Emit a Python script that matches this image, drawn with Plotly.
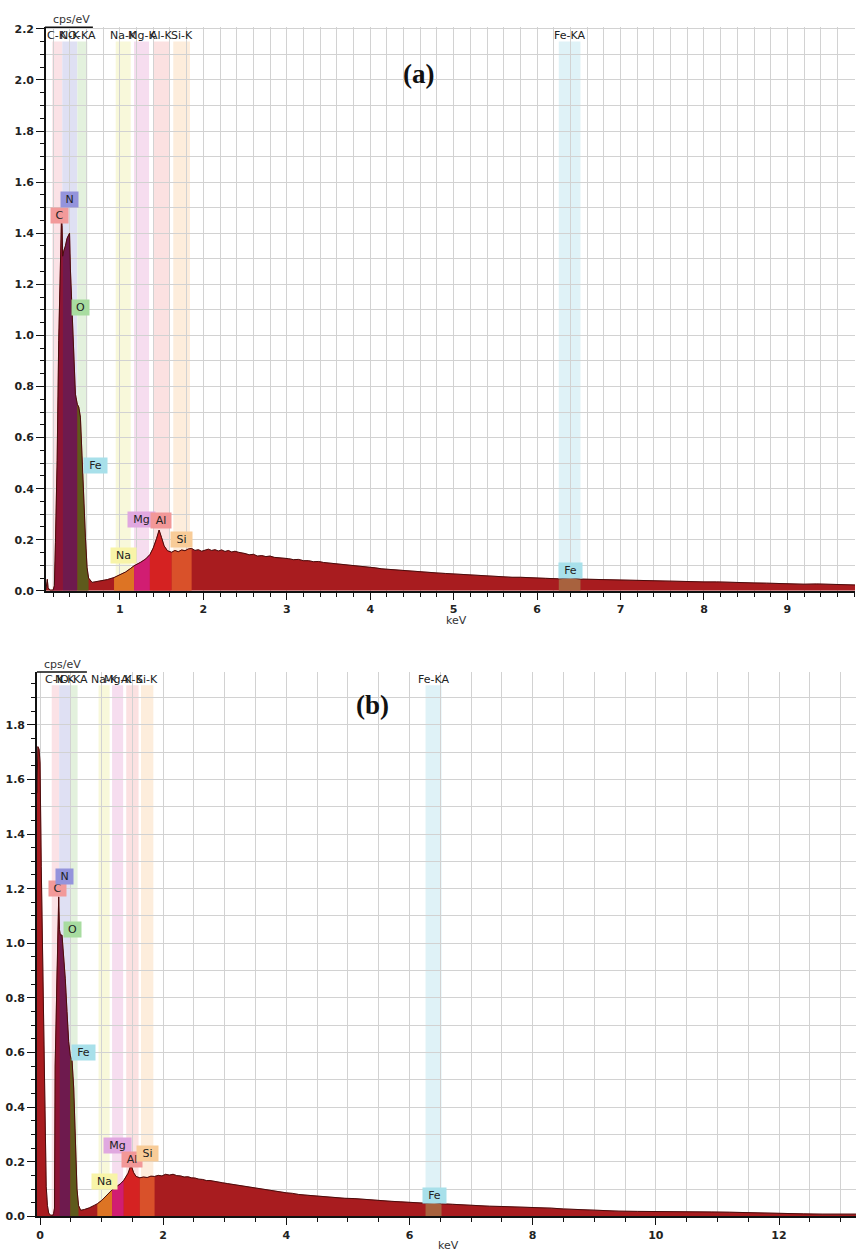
import plotly.graph_objects as go

# ---------------- data ----------------
# Panel (a) spectrum
energy_a = [0.114, 0.12, 0.13, 0.14, 0.16, 0.20, 0.215, 0.228, 0.248, 0.267, 0.287, 0.300, 0.307,
            0.315, 0.327, 0.347, 0.367, 0.387, 0.397, 0.407, 0.427, 0.447, 0.467, 0.49, 0.507,
            0.527, 0.547, 0.567, 0.587, 0.607, 0.625, 0.667, 0.75, 0.85, 0.93, 1.00, 1.07, 1.13,
            1.17, 1.25, 1.31, 1.36, 1.40, 1.44, 1.47, 1.50, 1.53, 1.57,
            1.62, 1.66, 1.70, 1.74, 1.78, 1.82, 1.86, 1.90, 1.94, 1.98, 2.02, 2.06, 2.10, 2.14,
            2.18, 2.22, 2.26, 2.30, 2.34, 2.38, 2.42, 2.46, 2.50, 2.55, 2.60, 2.65, 2.70, 2.75,
            2.80, 2.85, 2.90, 2.96, 3.02, 3.08, 3.14, 3.20, 3.26, 3.32, 3.38, 3.44, 3.50, 3.58,
            3.66, 3.74, 3.82, 3.90, 3.98, 4.06, 4.14, 4.22, 4.30, 4.40, 4.50, 4.60, 4.70, 4.80,
            4.90, 5.00, 5.10, 5.20, 5.30, 5.40, 5.50, 5.60, 5.70, 5.80, 5.90, 6.00, 6.10, 6.26,
            6.40, 6.52, 6.65, 6.80, 6.95, 7.10, 7.25, 7.40, 7.55, 7.70, 7.85, 8.00, 8.15, 8.30,
            8.45, 8.60, 8.75, 8.90, 9.05, 9.20, 9.35, 9.50, 9.65, 9.81]
counts_a = [0.004, 0.03, 0.045, 0.012, 0.003, 0.003, 0.02, 0.19, 0.51, 0.98, 1.35, 1.46, 1.43,
            1.31, 1.33, 1.35, 1.38, 1.39, 1.40, 1.26, 1.09, 0.87, 0.77, 0.73, 0.72,
            0.68, 0.51, 0.40, 0.21, 0.09, 0.05, 0.033, 0.037, 0.044, 0.052, 0.063, 0.074, 0.088,
            0.098, 0.112, 0.125, 0.142, 0.168, 0.205, 0.238, 0.208, 0.176, 0.157,
            0.151, 0.158, 0.153, 0.160, 0.157, 0.164, 0.166, 0.158, 0.161, 0.155, 0.159, 0.163, 0.158, 0.161,
            0.156, 0.160, 0.154, 0.158, 0.152, 0.155, 0.151, 0.149, 0.146, 0.141, 0.143, 0.136, 0.138, 0.134,
            0.136, 0.131, 0.130, 0.127, 0.126, 0.122, 0.123, 0.118, 0.118, 0.114, 0.115, 0.111, 0.109, 0.108,
            0.104, 0.102, 0.098, 0.097, 0.092, 0.090, 0.086, 0.084, 0.081, 0.079, 0.075, 0.074, 0.072, 0.070,
            0.068, 0.066, 0.063, 0.063, 0.060, 0.058, 0.056, 0.055, 0.053, 0.053, 0.051, 0.050, 0.049, 0.047,
            0.051, 0.046, 0.045, 0.043, 0.042, 0.040, 0.040, 0.038, 0.038, 0.036, 0.036, 0.035, 0.035, 0.033,
            0.032, 0.031, 0.030, 0.028, 0.028, 0.026, 0.027, 0.025, 0.025, 0.023]

# Panel (b) spectrum
energy_b = [-0.05, -0.035, -0.015, 0.0, 0.02, 0.04, 0.06, 0.08, 0.10, 0.12, 0.14, 0.17, 0.21, 0.22,
            0.235, 0.245, 0.26, 0.276, 0.295, 0.303, 0.315, 0.330, 0.357, 0.384, 0.41, 0.438, 0.465,
            0.49, 0.52, 0.547, 0.573, 0.60, 0.625, 0.66, 0.72, 0.80, 0.88, 0.93, 1.00, 1.08, 1.17,
            1.25, 1.31, 1.36, 1.43, 1.477, 1.52, 1.56,
            1.62, 1.68, 1.74, 1.80, 1.86, 1.92, 1.98, 2.04, 2.10, 2.16, 2.22, 2.28, 2.34, 2.40,
            2.46, 2.52, 2.58, 2.64, 2.70, 2.76, 2.82, 2.88, 2.96, 3.04, 3.12, 3.20, 3.28, 3.36,
            3.44, 3.52, 3.60, 3.70, 3.80, 3.90, 4.00, 4.10, 4.20, 4.35, 4.50, 4.65, 4.80, 4.95,
            5.10, 5.25, 5.40, 5.55, 5.70, 5.86, 6.00, 6.13, 6.26, 6.40, 6.52, 6.70, 6.90, 7.10,
            7.30, 7.50, 7.70, 7.90, 8.10, 8.30, 8.50, 8.70, 8.90, 9.10, 9.40, 9.70, 10.00, 10.30,
            10.60, 10.90, 11.20, 11.50, 11.80, 12.10, 12.40, 12.70, 13.00, 13.25]
counts_b = [1.55, 1.72, 1.71, 1.66, 1.28, 0.99, 0.58, 0.30, 0.11, 0.04, 0.012, 0.004, 0.004, 0.01,
            0.03, 0.55, 0.75, 0.93, 1.10, 1.17, 1.05, 1.03, 1.03, 0.96, 0.87, 0.75, 0.64,
            0.59, 0.57, 0.47, 0.28, 0.10, 0.04, 0.022, 0.025, 0.031, 0.040, 0.046, 0.058, 0.075, 0.097,
            0.110, 0.120, 0.132, 0.158, 0.188, 0.160, 0.146,
            0.141, 0.144, 0.142, 0.147, 0.146, 0.150, 0.148, 0.154, 0.151, 0.154, 0.149, 0.148, 0.144, 0.145,
            0.141, 0.140, 0.136, 0.135, 0.131, 0.131, 0.128, 0.126, 0.123, 0.120, 0.117, 0.114, 0.112, 0.109,
            0.107, 0.103, 0.101, 0.096, 0.093, 0.089, 0.086, 0.084, 0.080, 0.077, 0.074, 0.071, 0.069, 0.066,
            0.065, 0.062, 0.060, 0.057, 0.055, 0.053, 0.051, 0.050, 0.048, 0.051, 0.046, 0.044, 0.041, 0.039,
            0.037, 0.036, 0.035, 0.034, 0.032, 0.030, 0.027, 0.025, 0.023, 0.021, 0.019, 0.018, 0.018, 0.017,
            0.016, 0.016, 0.015, 0.013, 0.012, 0.011, 0.009, 0.008, 0.008, 0.008]

# Element markers
element_names = ["C", "N", "O", "Fe", "Na", "Mg", "Al", "Si", "Fe"]
element_energy = [0.277, 0.392, 0.525, 0.705, 1.041, 1.254, 1.487, 1.740, 6.400]
label_height_a = [1.47, 1.53, 1.11, 0.49, 0.14, 0.28, 0.275, 0.20, 0.078]
label_height_b = [1.20, 1.245, 1.05, 0.60, 0.127, 0.258, 0.207, 0.229, 0.075]

line_names = ["C-K", "N-K", "O-KA", "Na-K", "Mg-K", "Al-K", "Si-K", "Fe-KA"]

# ---------------- styles ----------------
band_ranges = [(0.19, 0.31), (0.31, 0.49), (0.49, 0.61), (0.95, 1.13), (1.17, 1.35),
               (1.40, 1.60), (1.64, 1.84), (6.26, 6.52)]
band_colors = ["#fbe2e6", "#dfe0f3", "#e3f1dd", "#f8f8da", "#f6ddef", "#fbe1e1", "#fdeddc", "#dff2f7"]

region_ranges = [(0.20, 0.315), (0.315, 0.49), (0.49, 0.625), (0.93, 1.17), (1.17, 1.36),
                 (1.36, 1.62), (1.62, 1.86), (6.26, 6.52)]
region_colors = ["#8e1434", "#6e1a4e", "#5e5a1c", "#dd7424", "#d11d72", "#d52222", "#d9512a", "#a8623e"]

box_colors = {"C": "#f29a9a", "N": "#9494dc", "O": "#a8dca0", "Fe": "#a8e0ea", "Na": "#f8f4a8",
              "Mg": "#e0a8e0", "Al": "#f29898", "Si": "#f8cc98"}
box_widths = {"C": 15, "N": 15, "O": 15, "Fe": 21, "Na": 23, "Mg": 25, "Al": 18, "Si": 19}

BASE = "#a81c1f"
OUTLINE = "#4a0c0c"
GRID = "#d2d2d2"
FONT = "DejaVu Sans"

fig = go.Figure()


def add_panel(E, C, xa, ya):
    fig.add_trace(go.Scatter(x=E, y=C, mode="lines", fill="tozeroy", fillcolor=BASE,
                             line=dict(color=BASE, width=0.5), xaxis=xa, yaxis=ya,
                             showlegend=False, hoverinfo="skip"))
    for (lo, hi), col in zip(region_ranges, region_colors):
        xs = [e for e in E if lo <= e <= hi]
        ys = [c for e, c in zip(E, C) if lo <= e <= hi]
        fig.add_trace(go.Scatter(x=xs, y=ys, mode="lines", fill="tozeroy", fillcolor=col,
                                 line=dict(color=col, width=0), xaxis=xa, yaxis=ya,
                                 showlegend=False, hoverinfo="skip"))
    fig.add_trace(go.Scatter(x=E, y=C, mode="lines", line=dict(color=OUTLINE, width=1),
                             xaxis=xa, yaxis=ya, showlegend=False, hoverinfo="skip"))


add_panel(energy_a, counts_a, "x", "y")
add_panel(energy_b, counts_b, "x2", "y2")

# invisible helpers so the grid-only overlay axes exist
fig.add_trace(go.Scatter(x=[energy_a[-1]], y=[0], xaxis="x", yaxis="y3", mode="markers",
                         marker=dict(opacity=0), showlegend=False, hoverinfo="skip"))
fig.add_trace(go.Scatter(x=[energy_b[-1]], y=[0], xaxis="x2", yaxis="y4", mode="markers",
                         marker=dict(opacity=0), showlegend=False, hoverinfo="skip"))

shapes = []
annotations = []
panels = [("x", "y", 2.15, 2.175, label_height_a), ("x2", "y2", 1.945, 1.966, label_height_b)]
for xa, ya, band_top, label_y, heights in panels:
    for (lo, hi), col in zip(band_ranges, band_colors):
        shapes.append(dict(type="rect", xref=xa, yref=ya, x0=lo, x1=hi, y0=0, y1=band_top,
                           fillcolor=col, line=dict(width=0), layer="below"))
    for (lo, hi), name in zip(band_ranges, line_names):
        annotations.append(dict(x=(lo + hi) / 2, y=label_y, xref=xa, yref=ya, text=name,
                                showarrow=False, font=dict(family=FONT, size=11, color="#222"),
                                xanchor="center", yanchor="middle"))
    for name, e, h in zip(element_names, element_energy, heights):
        annotations.append(dict(x=e, y=h, xref=xa, yref=ya, text=name, showarrow=False,
                                font=dict(family=FONT, size=11, color="#222"),
                                bgcolor=box_colors[name], borderpad=1, width=box_widths[name],
                                xanchor="center", yanchor="middle"))

W, H = 856, 1260


def px(xp):
    return xp / W


def py(yp):
    return 1 - yp / H


# top "cps/eV" frame segments
shapes.append(dict(type="line", xref="paper", yref="paper", x0=px(44), x1=px(92), y0=py(23.5), y1=py(23.5),
                   line=dict(color="#111", width=1.5)))
shapes.append(dict(type="line", xref="paper", yref="paper", x0=px(36), x1=px(86), y0=py(674), y1=py(674),
                   line=dict(color="#111", width=1.5)))

text_font = dict(family=FONT, size=11, color="#333")


def paper_text(x, y, text, font):
    return dict(x=px(x), y=py(y), xref="paper", yref="paper", text=text, showarrow=False,
                font=font, xanchor="center", yanchor="middle")


title_font = dict(family="Liberation Serif", size=27, color="#111")
annotations += [
    paper_text(71, 16, "cps/eV", text_font),
    paper_text(62, 666, "cps/eV", text_font),
    paper_text(456, 622, "keV", text_font),
    paper_text(448, 1252, "keV", text_font),
    paper_text(418, 71, "<b>(a)</b>", title_font),
    paper_text(372, 707, "<b>(b)</b>", title_font),
]

tickfont = dict(family=FONT, size=11, color="#222", weight="bold")


def xaxis_cfg(domain, rng, dtick, minor_dtick):
    return dict(domain=domain, range=rng, dtick=dtick, tick0=0, ticks="outside", ticklen=7,
                tickwidth=1, tickcolor="#111", showline=True, linecolor="#111", linewidth=2,
                showgrid=True, gridcolor=GRID, gridwidth=1, zeroline=False, tickfont=tickfont,
                minor=dict(dtick=minor_dtick, tick0=0, ticks="outside", ticklen=4, tickcolor="#111",
                           showgrid=True, gridcolor=GRID, gridwidth=1))


def yaxis_cfg(domain, rng, anchor):
    return dict(domain=domain, range=rng, anchor=anchor, dtick=0.2, tick0=0, tickformat=".1f",
                ticks="outside", ticklen=8, tickwidth=1, tickcolor="#111", showline=True,
                linecolor="#111", linewidth=1.5, showgrid=False, zeroline=False, tickfont=tickfont,
                minor=dict(dtick=0.05, tick0=0, ticks="outside", ticklen=4, tickcolor="#111", showgrid=False))


def grid_axis(rng, overlay, anchor):
    return dict(range=rng, overlaying=overlay, anchor=anchor, dtick=0.1, tick0=0, showgrid=True,
                gridcolor=GRID, gridwidth=1, showticklabels=False, ticks="", showline=False,
                zeroline=False)


ra = [0, 2.208]
rb = [0, 1.993]
fig.update_layout(
    width=W, height=H, margin=dict(l=0, r=0, t=0, b=0),
    paper_bgcolor="white", plot_bgcolor="white", showlegend=False,
    xaxis=dict(xaxis_cfg([px(45), px(855)], [0.114, 9.81], 1, 0.2), anchor="y"),
    yaxis=yaxis_cfg([py(592), py(23)], ra, "x"),
    yaxis3=grid_axis(ra, "y", "x"),
    xaxis2=dict(xaxis_cfg([px(36), 1.0], [-0.05, 13.25], 2, 0.5), anchor="y2"),
    yaxis2=yaxis_cfg([py(1223), py(674)], rb, "x2"),
    yaxis4=grid_axis(rb, "y2", "x2"),
    shapes=shapes,
    annotations=annotations,
)

fig.write_html("out.html")
